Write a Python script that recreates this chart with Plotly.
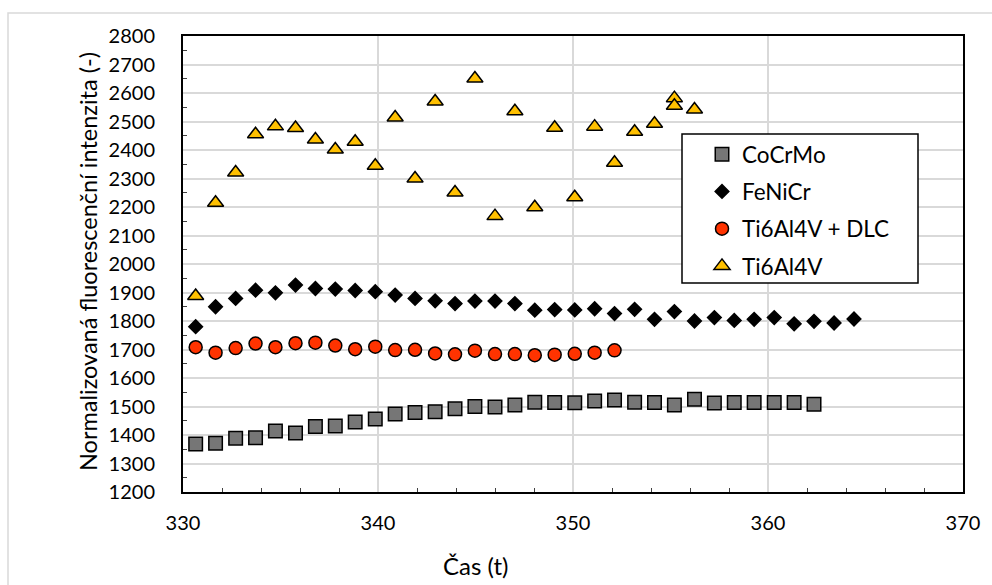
import plotly.graph_objects as go

# Measurement times (t)
time = [330.65, 331.67, 332.70, 333.72, 334.74, 335.77, 336.79, 337.81, 338.83,
        339.86, 340.88, 341.90, 342.93, 343.95, 344.97, 346.00, 347.02, 348.04,
        349.06, 350.09, 351.11, 352.13, 353.16, 354.18, 355.20, 356.23, 357.25,
        358.27, 359.29, 360.32, 361.34, 362.36, 363.39, 364.41]

cocrmo = [1368, 1371, 1389, 1390, 1414, 1407, 1430, 1432, 1446, 1456, 1474,
          1479, 1482, 1492, 1500, 1498, 1505, 1515, 1514, 1513, 1519, 1523,
          1515, 1514, 1505, 1525, 1512, 1514, 1514, 1514, 1514, 1508]

fenicr = [1780, 1850, 1879, 1908, 1899, 1926, 1914, 1912, 1907, 1903, 1891,
          1879, 1871, 1861, 1870, 1870, 1861, 1838, 1840, 1839, 1843, 1826,
          1841, 1806, 1833, 1800, 1812, 1802, 1806, 1812, 1790, 1799, 1793,
          1807]

ti_dlc = [1708, 1689, 1705, 1721, 1708, 1722, 1724, 1714, 1701, 1710, 1698,
          1699, 1686, 1683, 1696, 1684, 1684, 1680, 1682, 1685, 1689, 1697]

ti_time = time[:25] + [time[24], time[25]]
ti = [1888, 2215, 2321, 2455, 2483, 2477, 2437, 2402, 2429, 2345, 2514,
      2300, 2570, 2251, 2651, 2168, 2536, 2199, 2478, 2234, 2482, 2355,
      2464, 2492, 2582, 2555, 2542]

FONT = "Lato"
L, R, T, B = 183, 963, 36, 492
W, H = 992, 585
pw, ph = R - L, B - T


def px(xp):
    return (xp - L) / pw


def py(yp):
    return (B - yp) / ph


fig = go.Figure()
series = [
    ("CoCrMo", time[:len(cocrmo)], cocrmo, "square", "#767676", 13.5),
    ("FeNiCr", time[:len(fenicr)], fenicr, "diamond", "#000000", 10.5),
    ("Ti6Al4V + DLC", time[:len(ti_dlc)], ti_dlc, "circle", "#FF3300", 13),
    ("Ti6Al4V", ti_time, ti, "triangle-up", "#FFC000", 14),
]
for name, xs, ys, sym, col, sz in series:
    fig.add_trace(go.Scatter(
        x=xs, y=ys, mode="markers", name=name, legendgroup=name,
        marker=dict(symbol=sym, size=sz, color=col,
                    line=dict(color="#000000", width=1.5)),
    ))

# outer chart frame
fig.add_shape(type="rect", xref="paper", yref="paper",
              x0=px(8), x1=px(1000), y0=py(600), y1=py(13),
              line=dict(color="#d9d9d9", width=1.5), layer="below")
# legend box
fig.add_shape(type="rect", xref="paper", yref="paper",
              x0=px(682), x1=px(918), y0=py(283), y1=py(134),
              line=dict(color="#000000", width=1.5), fillcolor="white",
              layer="above")

# axis titles
fig.add_annotation(text="Čas (t)", xref="paper", yref="paper",
                   x=px(475), y=py(565), showarrow=False,
                   xanchor="center", yanchor="middle",
                   font=dict(family=FONT, size=24, color="#000000"))
fig.add_annotation(text="Normalizovaná fluorescenční intenzita (-)",
                   xref="paper", yref="paper", textangle=-90,
                   x=px(88), y=py(262), showarrow=False,
                   xanchor="center", yanchor="middle",
                   font=dict(family=FONT, size=23.5, color="#000000"))

fig.update_layout(
    width=W, height=H,
    margin=dict(l=L, r=W - R, t=T, b=H - B),
    paper_bgcolor="white", plot_bgcolor="white",
    font=dict(family=FONT, size=20, color="#000000"),
    showlegend=True,
    legend=dict(x=px(702), y=py(133), xanchor="left", yanchor="top",
                borderwidth=0, bgcolor="rgba(0,0,0,0)",
                font=dict(family=FONT, size=22.5), tracegroupgap=5,
                itemwidth=30),
    xaxis=dict(range=[330, 370], dtick=10, tick0=330,
               showgrid=True, gridcolor="#d9d9d9", gridwidth=1.5,
               showline=True, linecolor="#000000", linewidth=2, mirror=True,
               ticks="", ticklabelstandoff=12, zeroline=False,
               minor=dict(dtick=2, ticks="inside", ticklen=4,
                          tickcolor="#404040", showgrid=False)),
    yaxis=dict(range=[1200, 2800], dtick=100, tick0=1200,
               showgrid=True, gridcolor="#d9d9d9", gridwidth=1.5,
               showline=True, linecolor="#000000", linewidth=2, mirror=True,
               ticks="", ticklabelstandoff=22, zeroline=False,
               minor=dict(dtick=50, ticks="inside", ticklen=4,
                          tickcolor="#404040", showgrid=False)),
)

fig.write_html("out.html")
